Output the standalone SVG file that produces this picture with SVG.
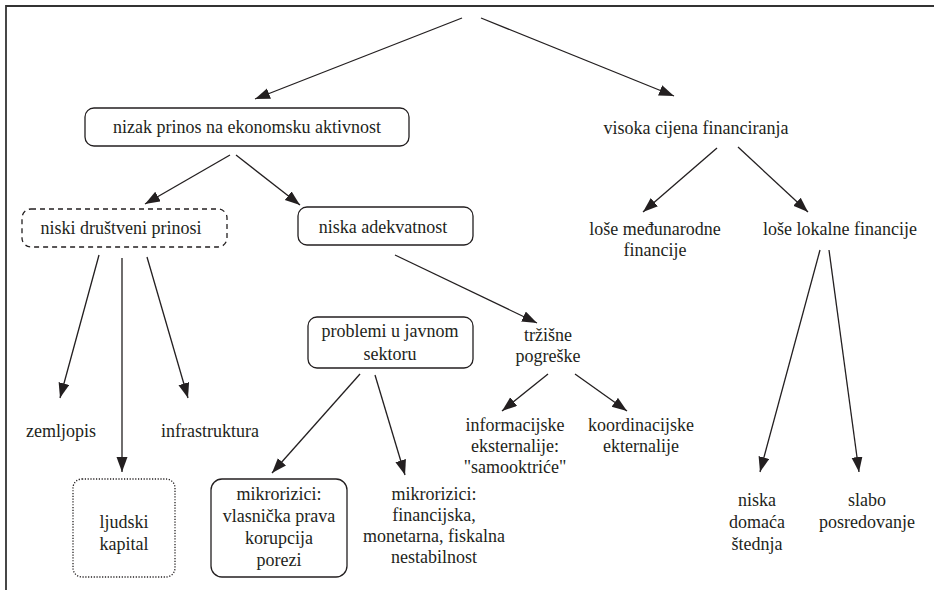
<svg xmlns="http://www.w3.org/2000/svg" width="934" height="590" viewBox="0 0 934 590">
<defs>
<marker id="ah" markerUnits="userSpaceOnUse" markerWidth="16" markerHeight="12" refX="15" refY="5.5" orient="auto">
<path d="M0,0 L15,5.5 L0,11 Z" fill="#231f20"/>
</marker>
</defs>
<style>
text{font-family:'Liberation Serif','Times New Roman','DejaVu Serif',serif;font-size:18px;fill:#231f20;text-anchor:middle}
.box{fill:none;stroke:#231f20;stroke-width:1.3}
.dash{stroke-dasharray:5,4}
.dot{stroke-dasharray:1.2,1.6}
#connectors line{stroke:#231f20;stroke-width:1.3;marker-end:url(#ah)}
</style>
<rect width="934" height="590" fill="#fff"/>
<path d="M6,590 V6 H934" fill="none" stroke="#333" stroke-width="1.8"/>
<g id="connectors">
<line x1="462" y1="18" x2="255" y2="99"/>
<line x1="481" y1="18" x2="674" y2="96"/>
<line x1="230" y1="155" x2="145" y2="204"/>
<line x1="236" y1="155" x2="300" y2="205"/>
<line x1="99" y1="255" x2="60" y2="398"/>
<line x1="122" y1="258" x2="122" y2="472"/>
<line x1="147" y1="257" x2="188" y2="398"/>
<line x1="395" y1="255" x2="537" y2="323"/>
<line x1="548" y1="374" x2="502" y2="411"/>
<line x1="575" y1="374" x2="627" y2="411"/>
<line x1="360" y1="374" x2="272" y2="473"/>
<line x1="375" y1="375" x2="405" y2="475"/>
<line x1="717" y1="148" x2="643" y2="212"/>
<line x1="738" y1="147" x2="808" y2="212"/>
<line x1="820" y1="250" x2="760" y2="472"/>
<line x1="829" y1="250" x2="859" y2="472"/>
</g>
<g font-family="Liberation Serif, serif">
<g id="n-nizak"><rect class="box" x="85" y="108" width="324" height="38" rx="9"/><text x="247" y="133">nizak prinos na ekonomsku aktivnost</text></g>
<g id="n-visoka"><text x="696" y="134">visoka cijena financiranja</text></g>
<g id="n-niski"><rect class="box dash" x="22" y="209" width="205" height="38" rx="9"/><text x="121" y="234">niski društveni prinosi</text></g>
<g id="n-adekv"><rect class="box" x="298" y="207" width="175" height="38" rx="9"/><text x="383" y="233">niska adekvatnost</text></g>
<g id="n-lose-med"><text x="655" y="235">loše međunarodne</text><text x="655" y="256">financije</text></g>
<g id="n-lose-lok"><text x="840" y="235">loše lokalne financije</text></g>
<g id="n-problemi"><rect class="box" x="308" y="317" width="165" height="51" rx="9"/><text x="390" y="337">problemi u javnom</text><text x="390" y="360">sektoru</text></g>
<g id="n-trzisne"><text x="548" y="341">tržišne</text><text x="548" y="362">pogreške</text></g>
<g id="n-zemljopis"><text x="61" y="437">zemljopis</text></g>
<g id="n-infra"><text x="210" y="437">infrastruktura</text></g>
<g id="n-info"><text x="515" y="431">informacijske</text><text x="515" y="452">eksternalije:</text><text x="515" y="473">"samooktriće"</text></g>
<g id="n-koord"><text x="641" y="431">koordinacijske</text><text x="641" y="452">ekternalije</text></g>
<g id="n-ljudski"><rect class="box dot" x="73" y="479" width="102" height="98" rx="9"/><text x="124" y="528">ljudski</text><text x="124" y="550">kapital</text></g>
<g id="n-mikro1"><rect class="box" x="211" y="479" width="136" height="98" rx="11"/><text x="279" y="500">mikrorizici:</text><text x="279" y="522">vlasnička prava</text><text x="279" y="544">korupcija</text><text x="279" y="566">porezi</text></g>
<g id="n-mikro2"><text x="434" y="500">mikrorizici:</text><text x="434" y="521">financijska,</text><text x="434" y="542">monetarna, fiskalna</text><text x="434" y="563">nestabilnost</text></g>
<g id="n-stednja"><text x="757" y="506">niska</text><text x="757" y="528">domaća</text><text x="757" y="550">štednja</text></g>
<g id="n-posred"><text x="867" y="506">slabo</text><text x="867" y="528">posredovanje</text></g>
</g>
</svg>
